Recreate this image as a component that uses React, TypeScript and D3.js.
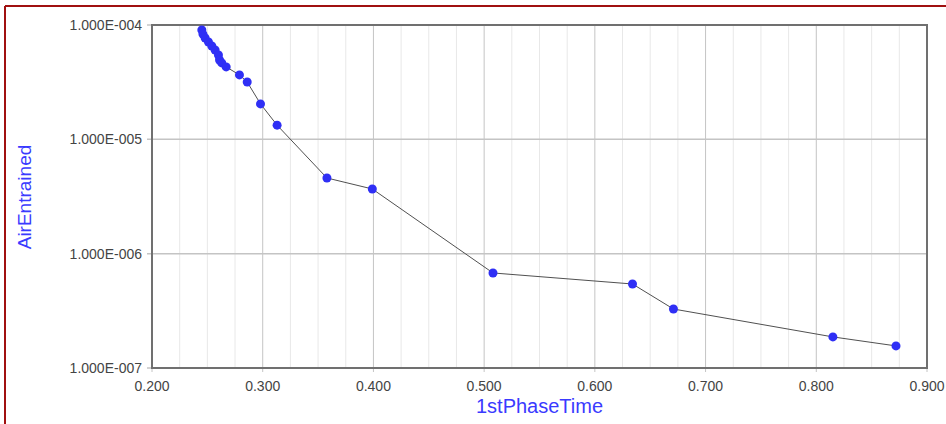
import React from "react";
import * as d3 from "d3";

const xValues = [0.245, 0.246, 0.248, 0.251, 0.254, 0.257, 0.26, 0.261, 0.263, 0.267, 0.279, 0.286, 0.298, 0.313, 0.358, 0.399, 0.508, 0.634, 0.671, 0.815, 0.872];
const yValues = [9.04e-5, 8.33e-5, 7.7e-5, 7.1e-5, 6.55e-5, 6.04e-5, 5.47e-5, 4.94e-5, 4.66e-5, 4.3e-5, 3.66e-5, 3.17e-5, 2.04e-5, 1.33e-5, 4.59e-6, 3.68e-6, 6.78e-7, 5.43e-7, 3.28e-7, 1.87e-7, 1.56e-7];
const xTicks = [0.2, 0.3, 0.4, 0.5, 0.6, 0.7, 0.8, 0.9];
const yTicks = [1e-4, 1e-5, 1e-6, 1e-7];
const yTickLabels = ["1.000E-004", "1.000E-005", "1.000E-006", "1.000E-007"];
const xTitle = "1stPhaseTime";
const yTitle = "AirEntrained";

export default function App() {
  const W = 946, H = 424;
  const L = 152, R = 927, T = 25, B = 368;
  const x = d3.scaleLinear().domain([0.2, 0.9]).range([L, R]);
  const y = d3.scaleLog().domain([1e-7, 1e-4]).range([B, T]);
  const minorX = d3.range(0.2, 0.9001, 0.025).filter((v) => Math.abs(Math.round(v * 10) - v * 10) > 1e-6);
  const pts = xValues.map((v, i) => [x(v), y(yValues[i])] as [number, number]);
  const line = d3.line()(pts) || "";
  const font = "Arial, 'Liberation Sans', sans-serif";
  return (
    <svg width={W} height={H} style={{ position: "absolute", left: 0, top: 0 }}>
      <rect x={0} y={0} width={W} height={H} fill="#fff" />
      <line x1={5} y1={6} x2={W} y2={6} stroke="#a01010" strokeWidth={2} />
      <line x1={5} y1={6} x2={5} y2={H} stroke="#a01010" strokeWidth={2} />
      {minorX.map((v, i) => (
        <line key={"mx" + i} x1={x(v)} x2={x(v)} y1={T} y2={B} stroke="#e8e8e8" strokeWidth={1} />
      ))}
      {xTicks.map((v, i) => (
        <line key={"gx" + i} x1={x(v)} x2={x(v)} y1={T} y2={B + 4} stroke="#c4c4c4" strokeWidth={1} />
      ))}
      {yTicks.map((v, i) => (
        <line key={"gy" + i} x1={L - 5} x2={R} y1={y(v)} y2={y(v)} stroke="#c4c4c4" strokeWidth={1.5} />
      ))}
      <rect x={L} y={T} width={R - L} height={B - T} fill="none" stroke="#707070" strokeWidth={2} />
      <path d={line} fill="none" stroke="#505050" strokeWidth={1} />
      {pts.map((p, i) => (
        <circle key={"p" + i} cx={p[0]} cy={p[1]} r={4.5} fill="#2f2ff5" />
      ))}
      {yTicks.map((v, i) => (
        <text key={"yl" + i} x={L - 10} y={y(v) + 5} textAnchor="end" fontFamily={font} fontSize={14} fill="#444">
          {yTickLabels[i]}
        </text>
      ))}
      {xTicks.map((v, i) => (
        <text key={"xl" + i} x={x(v)} y={B + 23} textAnchor="middle" fontFamily={font} fontSize={14} fill="#444">
          {v.toFixed(3)}
        </text>
      ))}
      <text x={(L + R) / 2} y={413} textAnchor="middle" fontFamily={font} fontSize={20} fill="#3a3aff">
        {xTitle}
      </text>
      <text transform={`translate(31,197) rotate(-90)`} textAnchor="middle" fontFamily={font} fontSize={19} fill="#3a3aff">
        {yTitle}
      </text>
    </svg>
  );
}
